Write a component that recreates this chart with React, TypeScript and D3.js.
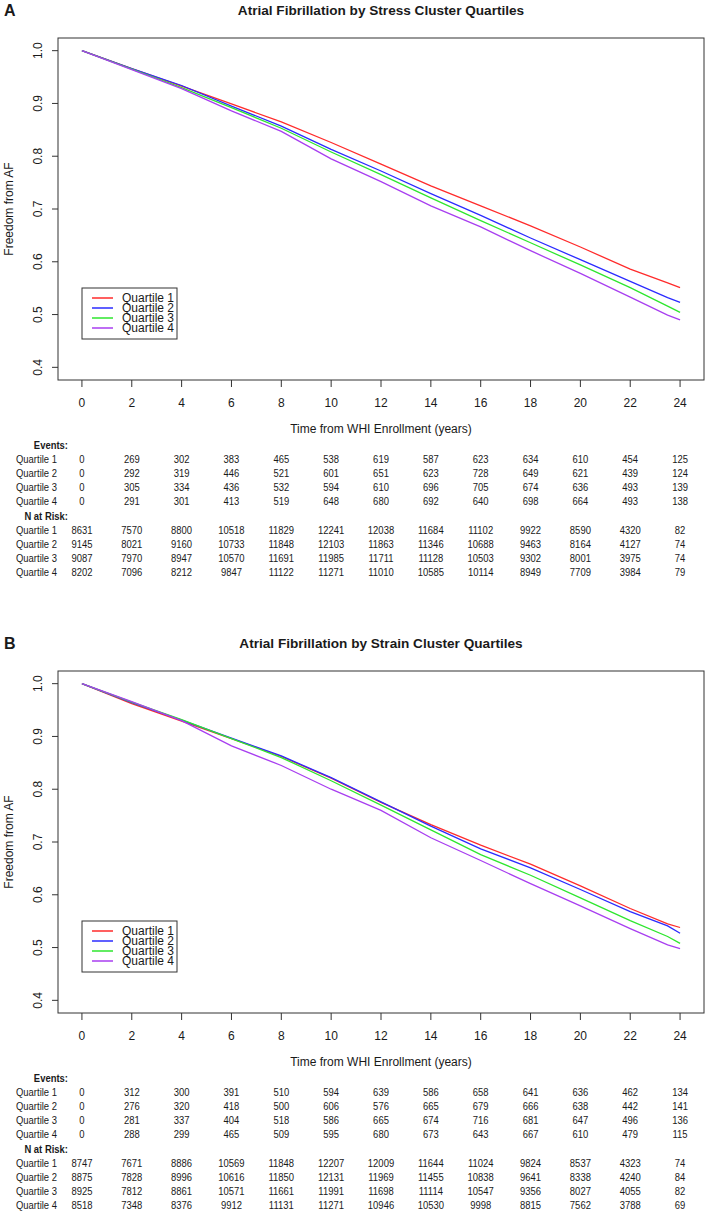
import React from 'react';
import * as d3 from 'd3';

const quartileNames = ['Quartile 1', 'Quartile 2', 'Quartile 3', 'Quartile 4'];
const quartileColors = ['#ff2b2b', '#2b2bff', '#2ee62e', '#a83ef0'];

const curveTimes = [0, 2, 4, 6, 8, 10, 12, 14, 16, 18, 20, 22, 23.5, 24];

const stressQ1 = [1, 0.966, 0.933, 0.899, 0.865, 0.826, 0.785, 0.744, 0.706, 0.668, 0.628, 0.586, 0.56, 0.551];
const stressQ2 = [1, 0.966, 0.934, 0.895, 0.857, 0.813, 0.772, 0.729, 0.688, 0.645, 0.604, 0.563, 0.532, 0.523];
const stressQ3 = [1, 0.965, 0.93, 0.892, 0.853, 0.808, 0.765, 0.721, 0.678, 0.636, 0.594, 0.551, 0.516, 0.504];
const stressQ4 = [1, 0.964, 0.928, 0.886, 0.847, 0.795, 0.752, 0.706, 0.666, 0.621, 0.578, 0.533, 0.499, 0.49];

const strainQ1 = [1, 0.962, 0.929, 0.896, 0.862, 0.821, 0.775, 0.733, 0.694, 0.658, 0.617, 0.574, 0.545, 0.538];
const strainQ2 = [1, 0.964, 0.931, 0.897, 0.863, 0.822, 0.776, 0.73, 0.687, 0.651, 0.61, 0.568, 0.541, 0.527];
const strainQ3 = [1, 0.965, 0.932, 0.896, 0.86, 0.816, 0.77, 0.723, 0.676, 0.637, 0.594, 0.551, 0.521, 0.508];
const strainQ4 = [1, 0.966, 0.93, 0.882, 0.845, 0.8, 0.76, 0.708, 0.665, 0.621, 0.579, 0.536, 0.505, 0.498];

const tableYears = [0, 2, 4, 6, 8, 10, 12, 14, 16, 18, 20, 22, 24];
const yTickValues = [0.4, 0.5, 0.6, 0.7, 0.8, 0.9, 1.0];

const stressEventsQ1 = [0, 269, 302, 383, 465, 538, 619, 587, 623, 634, 610, 454, 125];
const stressEventsQ2 = [0, 292, 319, 446, 521, 601, 651, 623, 728, 649, 621, 439, 124];
const stressEventsQ3 = [0, 305, 334, 436, 532, 594, 610, 696, 705, 674, 636, 493, 139];
const stressEventsQ4 = [0, 291, 301, 413, 519, 648, 680, 692, 640, 698, 664, 493, 138];
const stressRiskQ1 = [8631, 7570, 8800, 10518, 11829, 12241, 12038, 11684, 11102, 9922, 8590, 4320, 82];
const stressRiskQ2 = [9145, 8021, 9160, 10733, 11848, 12103, 11863, 11346, 10688, 9463, 8164, 4127, 74];
const stressRiskQ3 = [9087, 7970, 8947, 10570, 11691, 11985, 11711, 11128, 10503, 9302, 8001, 3975, 74];
const stressRiskQ4 = [8202, 7096, 8212, 9847, 11122, 11271, 11010, 10585, 10114, 8949, 7709, 3984, 79];

const strainEventsQ1 = [0, 312, 300, 391, 510, 594, 639, 586, 658, 641, 636, 462, 134];
const strainEventsQ2 = [0, 276, 320, 418, 500, 606, 576, 665, 679, 666, 638, 442, 141];
const strainEventsQ3 = [0, 281, 337, 404, 518, 586, 665, 674, 716, 681, 647, 496, 136];
const strainEventsQ4 = [0, 288, 299, 465, 509, 595, 680, 673, 643, 667, 610, 479, 115];
const strainRiskQ1 = [8747, 7671, 8886, 10569, 11848, 12207, 12009, 11644, 11024, 9824, 8537, 4323, 74];
const strainRiskQ2 = [8875, 7828, 8996, 10616, 11850, 12131, 11969, 11455, 10838, 9641, 8338, 4240, 84];
const strainRiskQ3 = [8925, 7812, 8861, 10571, 11661, 11991, 11698, 11114, 10547, 9356, 8027, 4055, 82];
const strainRiskQ4 = [8518, 7348, 8376, 9912, 11131, 11271, 10946, 10530, 9998, 8815, 7562, 3788, 69];

const FONT = "'Liberation Sans', Arial, Helvetica, sans-serif";
const TXT = '#1a1a1a';
const TABLE_FS = 11;
const TABLE_SX = 0.86;

type PanelProps = {
  top: number;
  letter: string;
  title: string;
  series: number[][];
  events: number[][];
  risk: number[][];
};

function Panel({ top, letter, title, series, events, risk }: PanelProps) {
  const boxL = 58, boxR = 704, boxT = top + 38, boxB = top + 380;
  const x = d3.scaleLinear().domain([-0.96, 24.96]).range([boxL, boxR]);
  const y = d3.scaleLinear().domain([0.376, 1.024]).range([boxB, boxT]);
  const line = d3.line<[number, number]>().x(d => x(d[0])).y(d => y(d[1]));
  const rowStep = 14.1;
  const tableTop = top + 445;
  const rows: { label: string; bold?: boolean; values?: number[] }[] = [
    { label: 'Events:', bold: true },
    ...events.map((v, i) => ({ label: quartileNames[i], values: v })),
    { label: 'N at Risk:', bold: true },
    ...risk.map((v, i) => ({ label: quartileNames[i], values: v })),
  ];
  const legX = 82, legY = top + 288;
  const tt = (tx: number, ty: number) => `translate(${tx},${ty}) scale(${TABLE_SX},1)`;
  return (
    <g fontFamily={FONT} fill={TXT}>
      <text x={4} y={top + 16} fontSize={16} fontWeight="bold">{letter}</text>
      <text x={(boxL + boxR) / 2} y={top + 15} fontSize={13.6} fontWeight="bold" textAnchor="middle">{title}</text>
      {series.map((s, i) => (
        <path key={i} d={line(curveTimes.map((t, j) => [t, s[j]]) as [number, number][]) || ''}
          fill="none" stroke={quartileColors[i]} strokeWidth={1.3} />
      ))}
      <rect x={boxL} y={boxT} width={boxR - boxL} height={boxB - boxT} fill="none" stroke="#333" strokeWidth={1} />
      {yTickValues.map(v => (
        <g key={v}>
          <line x1={boxL - 6} x2={boxL} y1={y(v)} y2={y(v)} stroke="#333" />
          <text transform={`translate(42,${y(v)}) rotate(-90)`} fontSize={12} textAnchor="middle">{v.toFixed(1)}</text>
        </g>
      ))}
      <text transform={`translate(13,${(boxT + boxB) / 2}) rotate(-90)`} fontSize={12} textAnchor="middle">Freedom from AF</text>
      {tableYears.map(t => (
        <g key={t}>
          <line x1={x(t)} x2={x(t)} y1={boxB} y2={boxB + 7} stroke="#333" />
          <text x={x(t)} y={top + 406.5} fontSize={12} textAnchor="middle">{t}</text>
        </g>
      ))}
      <text x={(boxL + boxR) / 2} y={top + 433} fontSize={12} textAnchor="middle">Time from WHI Enrollment (years)</text>
      {rows.map((r, i) => {
        const ry = tableTop + i * rowStep + 4;
        return (
          <g key={i}>
            {r.bold ? (
              <text transform={tt(68, ry)} fontSize={TABLE_FS} fontWeight="bold" textAnchor="end">{r.label}</text>
            ) : (
              <text transform={tt(16, ry)} fontSize={TABLE_FS}>{r.label}</text>
            )}
            {r.values && r.values.map((v, j) => (
              <text key={j} transform={tt(x(tableYears[j]), ry)} fontSize={TABLE_FS} textAnchor="middle">{v}</text>
            ))}
          </g>
        );
      })}
      <rect x={legX} y={legY} width={95} height={51} fill="#fff" stroke="#333" strokeWidth={1} />
      {quartileNames.map((n, i) => (
        <g key={n}>
          <line x1={legX + 10} x2={legX + 31} y1={legY + 10 + i * 10} y2={legY + 10 + i * 10} stroke={quartileColors[i]} strokeWidth={1.5} />
          <text x={legX + 40} y={legY + 14.2 + i * 10} fontSize={12}>{n}</text>
        </g>
      ))}
    </g>
  );
}

export default function App() {
  return (
    <svg width={709} height={1213} style={{ position: 'absolute', left: 0, top: 0, background: '#fff' }}>
      <rect width={709} height={1213} fill="#fff" />
      <Panel top={0} letter="A" title="Atrial Fibrillation by Stress Cluster Quartiles"
        series={[stressQ1, stressQ2, stressQ3, stressQ4]}
        events={[stressEventsQ1, stressEventsQ2, stressEventsQ3, stressEventsQ4]}
        risk={[stressRiskQ1, stressRiskQ2, stressRiskQ3, stressRiskQ4]} />
      <Panel top={633} letter="B" title="Atrial Fibrillation by Strain Cluster Quartiles"
        series={[strainQ1, strainQ2, strainQ3, strainQ4]}
        events={[strainEventsQ1, strainEventsQ2, strainEventsQ3, strainEventsQ4]}
        risk={[strainRiskQ1, strainRiskQ2, strainRiskQ3, strainRiskQ4]} />
    </svg>
  );
}
